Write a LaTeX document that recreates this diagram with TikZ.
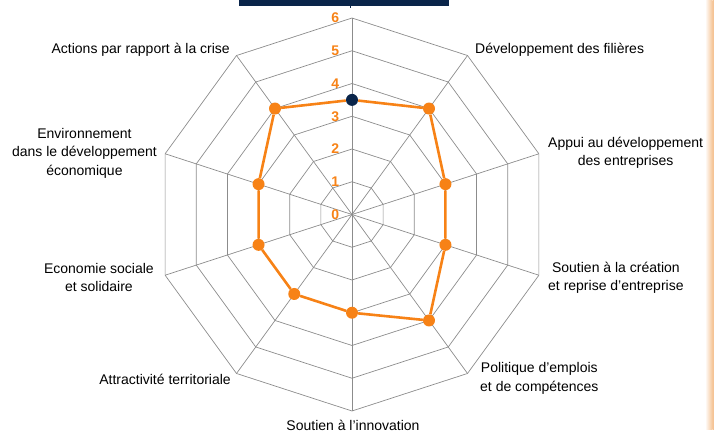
\documentclass[tikz,border=0pt]{standalone}
\usepackage{fontspec}
\setmainfont{Liberation Sans}
\usetikzlibrary{calc}

\definecolor{radarorange}{RGB}{247,130,22}
\definecolor{radarnavy}{RGB}{10,37,74}
\definecolor{gridgray}{RGB}{140,140,140}
\definecolor{edgeorange}{RGB}{245,196,150}

\tikzset{
  grid line/.style={draw=gridgray, line width=0.7pt},
  lbl/.style={inner sep=0pt, font=\fontsize{14}{18.3}\selectfont, align=center},
  scalelbl/.style={inner sep=0pt, text=radarorange, font=\fontsize{14}{14}\selectfont\bfseries},
  datadot/.style={circle, fill=radarorange, inner sep=0pt, minimum size=12pt},
  dataline/.style={draw=radarorange, line width=2.6pt, line join=round},
}

\begin{document}
\begin{tikzpicture}[x=1pt,y=1pt]
    \useasboundingbox (0,0) rectangle (716,434);
    % title bar and page edge
    \fill [radarnavy] (239.3,428) rectangle (449,434);
    \fill [radarnavy] (350.2,426.3) rectangle (351.4,428);
    \shade [left color=white, right color=edgeorange] (705,4) rectangle (712.5,434);
    \fill [edgeorange] (712.5,4) rectangle (714.3,434);
    % web
    \coordinate (c) at (352,219.5);
    \foreach \r in {1,...,6}
      \draw [grid line] ($(c)+(90:32.75*\r)$)
        \foreach \a in {54,18,...,-234} { -- ($(c)+(\a:32.75*\r)$) } -- cycle;
    \foreach \a [count=\i from 0] in {90,54,...,-234} {
      \coordinate (v\i) at ($(c)+(\a:196.5)$);
      \draw [grid line] (c) -- (v\i);
    }
    % scale
    \foreach \n in {0,...,6}
      \node [scalelbl] (s\n) at ({335.3},{219.5+32.75*\n}) {\n};
    % values
    \node [datadot] (p1) at ($(c)+(54:131)$) {};
    \node [datadot] (p2) at ($(c)+(18:98.25)$) {};
    \node [datadot] (p3) at ($(c)+(-18:98.25)$) {};
    \node [datadot] (p4) at ($(c)+(-54:131)$) {};
    \node [datadot] (p5) at ($(c)+(-90:98.25)$) {};
    \node [datadot] (p6) at ($(c)+(-126:98.25)$) {};
    \node [datadot] (p7) at ($(c)+(-162:98.25)$) {};
    \node [datadot] (p8) at ($(c)+(162:98.25)$) {};
    \node [datadot] (p9) at ($(c)+(126:131)$) {};
    \node [datadot, fill=radarnavy] (p0) at ($(c)+(90:114.6)$) {};
    \draw [dataline] (p0) -- (p1) -- (p2) -- (p3) -- (p4) -- (p5)
      -- (p6) -- (p7) -- (p8) -- (p9) -- (p0);
    % axis labels
    \node [lbl, anchor=east] (lcrise) at (230,384) {Actions par rapport à la crise};
    \node [lbl, anchor=west] (lfilieres) at (475,384) {Développement des filières};
    \node [lbl, anchor=west] (lappui) at (548,281.5) {Appui au développement\\des entreprises};
    \node [lbl, anchor=west] (lcreation) at (548,156.5) {Soutien à la création\\et reprise d'entreprise};
    \node [lbl, anchor=west] (lemploi) at (480,55.5) {Politique d'emplois\\et de compétences};
    \node [lbl, anchor=base] (linnov) at (353,3.5) {Soutien à l'innovation};
    \node [lbl, anchor=east] (lattract) at (231,55) {Attractivité territoriale};
    \node [lbl, anchor=east] (less) at (154,156.5) {Economie sociale\\et solidaire};
    \node [lbl, anchor=east] (lenv) at (157,280.7) {Environnement\\dans le développement\\économique};
\end{tikzpicture}
\end{document}
